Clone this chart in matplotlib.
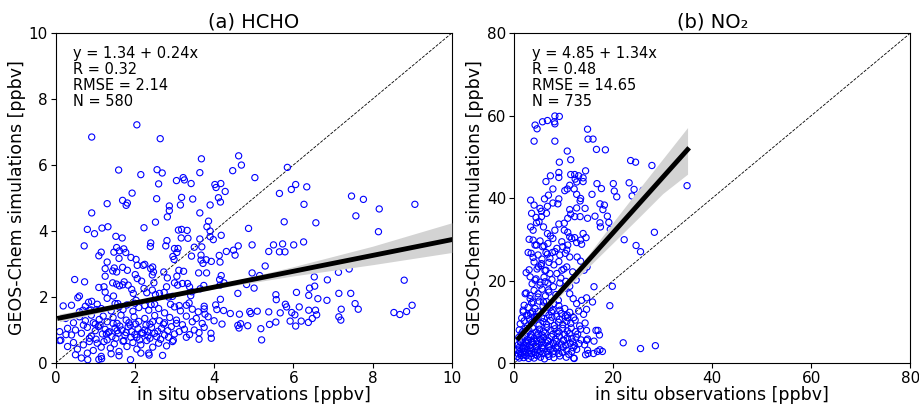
import matplotlib
matplotlib.use("Agg")
import matplotlib.pyplot as plt
import numpy as np

# ---------------- (a) HCHO : (in situ obs, GEOS-Chem) pairs ----------------
hcho_sparse = [
    (0.91,6.85),(2.05,7.22),(2.64,6.80),(3.68,6.19),(4.62,6.28),(4.69,6.00),(5.85,5.93),
    (1.59,5.85),(2.15,5.71),(2.56,5.86),(2.69,5.76),(3.05,5.53),(3.22,5.62),(3.25,5.55),(3.42,5.44),(3.64,5.77),(4.47,5.83),(5.03,5.62),
    (4.02,5.41),(4.17,5.44),(4.05,5.32),(4.28,5.20),(1.93,5.15),(2.60,5.43),(5.65,5.14),(5.95,5.26),(6.06,5.41),(6.34,5.34),
    (7.47,5.06),(7.77,4.96),(8.17,4.67),(9.07,4.81),(7.58,4.46),(6.57,4.25),(6.27,4.81),(5.77,4.28),
    (2.55,4.98),(3.18,5.02),(3.46,4.97),(4.11,5.01),(4.16,4.88),(3.90,4.79),(3.15,4.79),(2.87,4.76),(2.87,4.62),(2.82,4.43),(2.52,4.27),
    (1.69,4.93),(1.81,4.85),(1.78,4.78),(1.30,4.83),(0.91,4.55),(3.64,4.55),(3.86,4.30),(3.82,4.13),(2.23,4.10),(0.80,4.05),(1.17,4.09),(1.32,4.13),
    (3.10,4.03),(3.18,4.05),(3.32,4.02),(3.90,4.00),(4.87,4.08),(8.15,3.98),(0.98,3.92),(1.52,3.84),(1.68,3.79),(3.17,3.79),(3.34,3.78),
    (3.64,3.76),(3.90,3.83),(4.18,3.87),(3.98,3.74),(2.81,3.71),(2.40,3.64),
    (0.72,3.55),(1.54,3.50),(1.72,3.46),(2.39,3.53),(2.78,3.55),(3.00,3.47),(3.09,3.47),(3.50,3.51),(3.69,3.52),(4.61,3.55),(4.96,3.58),
    (5.50,3.58),(5.73,3.61),(6.01,3.58),(6.26,3.67),
    (9.12,3.34),(9.27,3.34),(8.33,3.19),(8.69,3.30),(1.15,3.36),(1.09,3.25),(1.47,3.36),(1.61,3.40),(1.77,3.35),(1.90,3.20),(2.03,3.14),
    (1.60,3.17),(1.30,3.06),(2.25,2.99),(2.06,2.96),
    (3.67,3.27),(3.43,3.24),(3.06,3.35),(2.96,3.23),(2.99,3.14),(3.67,3.12),(3.72,3.02),(3.80,3.13),(3.93,3.08),(4.13,3.26),(4.31,3.38),
    (4.49,3.42),(4.53,3.27),(4.15,3.06),(5.38,3.38),(5.65,3.37),(5.79,3.37),(5.29,2.94),
    (6.89,3.04),(7.41,2.85),(6.53,2.61),(6.86,2.52),(7.14,2.75),(8.80,2.51),
    (1.25,2.86),(1.48,2.88),(1.54,2.76),(1.69,2.90),(1.25,2.63),(1.44,2.79),(1.81,2.81),(2.01,2.68),(2.21,2.96),(2.45,2.91),(2.40,2.86),
    (2.47,2.76),(2.44,2.67),(2.73,2.76),(2.82,2.58),(3.06,2.63),(3.11,2.81),(3.23,2.78),(3.61,2.73),(3.81,2.73),(4.18,2.65),(4.14,2.53),
    (4.96,2.73),(5.15,2.65),
    (0.48,2.53),(0.73,2.46),(1.09,2.29),(1.22,2.31),(1.44,2.43),(1.54,2.39),(1.61,2.34),(1.69,2.37),(1.73,2.46),(1.83,2.36),(1.92,2.23),
    (2.06,2.56),(2.17,2.48),(2.23,2.26),(2.48,2.43),(2.44,2.21),(2.80,2.31),(3.00,2.43),(3.08,2.36),(3.20,2.41),(3.33,2.41),(3.38,2.31),
    (3.44,2.16),(4.15,2.36),(4.25,2.43),(4.82,2.38),(5.01,2.27),(6.54,2.33),(6.41,2.27),
    (0.60,2.03),(0.56,1.98),(0.83,1.84),(0.91,1.87),(1.25,2.15),(1.30,1.96),(1.46,2.03),(1.96,2.11),(2.03,1.90),(2.30,2.13),(2.52,2.07),
    (2.62,2.11),(2.74,2.14),(2.85,2.00),(2.95,2.02),(3.41,2.04),(3.65,2.25),(3.74,2.35),(4.60,2.11),(4.16,1.93),(6.08,2.14),(7.15,2.11),
    (7.45,2.11),(5.56,2.07),(5.57,1.92),(6.39,2.05),(6.62,1.95),(6.85,1.90),
    (0.19,1.73),(0.69,1.60),(0.89,1.61),(1.03,1.62),(1.57,1.80),(2.00,1.81),(2.41,1.77),(2.90,1.78),(3.12,1.74),(3.37,1.82),(3.75,1.64),
    (4.04,1.76),(4.07,1.62),(4.24,1.59),(3.77,1.48),(4.41,1.50),(4.64,1.48),(4.90,1.56),(4.93,1.50),(5.09,1.57),(5.38,1.55),(5.67,1.52),
    (5.80,1.78),(5.83,1.70),(5.96,1.53),(6.04,1.46),(6.15,1.70),(6.39,1.60),(6.56,1.60),(6.59,1.46),(6.20,1.27),(6.06,1.12),(5.92,1.27),
    (6.38,1.23),(6.48,1.35),
    (7.21,1.63),(7.56,1.80),(7.64,1.63),(7.15,1.40),(7.20,1.30),(8.54,1.53),(8.69,1.47),(8.86,1.56),(9.00,1.75),
    (5.56,1.24),(5.40,1.17),(5.18,1.04),(5.20,0.70),(4.60,1.14),(4.63,1.06),(4.85,1.13),(4.67,1.19),(3.93,0.75),(3.62,0.72),
    (2.70,0.23),(2.36,0.24),(1.89,0.10),(1.09,0.11),(1.16,0.13),(0.81,0.10),(0.65,0.15),(2.97,0.69),(0.13,0.69),(0.26,0.86),
]
hcho_cluster = [
    (0.40,1.75),(0.60,1.55),(0.75,1.72),(0.85,1.60),(1.05,1.78),(1.15,1.65),(1.40,1.58),(1.50,1.80),(1.60,1.70),(1.70,1.62),(1.80,1.76),
    (1.95,1.57),(2.10,1.68),(2.25,1.74),(2.35,1.60),(2.50,1.78),(2.60,1.65),(2.75,1.52),(3.00,1.70),(3.15,1.58),(3.30,1.75),(3.45,1.63),
    (3.60,1.55),(3.75,1.72),
    (0.25,1.35),(0.45,1.22),(0.60,1.40),(0.75,1.28),(0.90,1.45),(1.00,1.18),(1.10,1.32),(1.20,1.42),(1.30,1.25),(1.45,1.38),(1.55,1.20),
    (1.65,1.45),(1.78,1.30),(1.88,1.15),(1.98,1.40),(2.10,1.26),(2.25,1.35),(2.38,1.18),(2.50,1.44),(2.62,1.28),(2.75,1.22),(2.88,1.38),
    (3.05,1.30),(3.20,1.16),(3.30,1.42),(3.45,1.25),(3.55,1.35),(3.70,1.20),(3.85,1.40),(4.00,1.28),(4.20,1.18),
    (0.10,0.95),(0.30,1.05),(0.40,0.85),(0.50,1.00),(0.65,0.90),(0.80,1.08),(0.90,0.82),(1.00,0.98),(1.08,1.10),(1.18,0.88),(1.25,1.02),
    (1.33,0.92),(1.42,0.80),(1.50,1.06),(1.58,0.90),(1.67,1.00),(1.75,0.84),(1.83,1.10),(1.92,0.95),(2.00,0.86),(2.08,1.04),(2.17,0.92),
    (2.25,1.00),(2.33,0.82),(2.42,1.08),(2.50,0.90),(2.58,0.96),(2.67,1.05),(2.75,0.85),(2.83,0.98),(2.92,1.10),(3.00,0.88),(3.12,0.95),
    (3.25,1.02),(3.38,0.86),(3.50,1.00),(3.62,0.92),(3.75,1.08),(3.92,0.90),
    (0.10,0.68),(0.30,0.50),(0.45,0.62),(0.55,0.42),(0.70,0.55),(0.85,0.65),(0.95,0.38),(1.05,0.60),(1.15,0.48),(1.30,0.70),(1.38,0.45),
    (1.48,0.58),(1.60,0.35),(1.70,0.66),(1.80,0.50),(1.95,0.62),(2.05,0.42),(2.15,0.55),(2.30,0.68),(2.45,0.48),(2.60,0.60),(2.80,0.52),
    (2.95,0.65),
    (0.50,0.25),(0.80,0.30),(1.15,0.20),(1.40,0.28),(1.60,0.22),(2.15,0.30),(2.35,0.30),
    (1.02,0.72),(1.12,1.15),(1.22,0.65),(1.35,0.95),(1.45,1.20),(1.52,0.75),(1.62,1.12),(1.72,0.68),(1.85,1.22),(1.90,0.78),(2.02,1.18),
    (2.12,0.70),(2.20,0.90),(2.28,1.15),(2.38,0.75),(2.45,1.25),(2.55,0.80),(2.65,0.72),(2.72,1.18),(2.85,0.78),(0.95,1.22),(1.28,0.88),
    (1.55,0.98),(1.78,0.92),(2.05,0.78),(2.32,0.95),(0.70,1.15),(0.85,0.75),(3.05,1.20),(3.30,0.78),
]
hcho_fit = (1.34, 0.24)
hcho_band_x = [0.1, 2, 4, 6, 8, 10]
hcho_band_lo = [1.25, 1.77, 2.25, 2.64, 2.98, 3.35]
hcho_band_hi = [1.49, 1.87, 2.35, 2.92, 3.54, 4.25]
hcho_stats = "y = 1.34 + 0.24x\nR = 0.32\nRMSE = 2.14\nN = 580"

# ---------------- (b) NO2 ----------------
no2_sparse = [
    (8.2,59.9),(9.1,59.8),(8.1,58.5),(8.2,58.0),(6.7,58.8),(5.7,58.5),(4.2,57.7),(4.6,56.8),(4.0,53.8),(8.2,53.8),(14.8,56.7),(14.9,54.3),
    (15.9,54.3),(16.6,51.8),(18.4,51.7),(10.7,51.4),(11.4,49.3),(9.1,48.7),(23.5,49.1),(24.5,48.7),(27.8,47.9),(34.9,43.0),(28.7,43.0),
    (26.0,41.9),(27.3,42.2),(24.2,42.1),(23.2,43.7),(20.0,43.5),(20.2,41.7),(20.7,40.3),(23.8,40.5),(23.9,37.9),(16.7,43.5),(17.6,42.3),
    (15.7,40.9),(17.3,38.6),(18.2,38.3),(17.9,37.2),(18.8,35.6),(19.1,34.1),(17.3,34.0),(17.4,33.0),(19.4,32.4),(19.6,30.4),(16.3,35.6),
    (22.2,29.9),(24.6,28.5),(25.5,27.0),(28.3,31.7),(19.8,18.6),(19.3,13.9),(16.1,18.5),(15.8,14.8),(14.6,15.8),(14.6,13.0),(22.0,4.9),
    (25.5,3.5),(28.5,4.2),(16.5,7.9),(17.2,6.8),(16.1,5.3),(16.8,2.8),(17.3,3.2),(17.8,2.8),(16.0,2.3),(14.9,2.3),(14.8,3.1),(14.6,5.5),
    (12.0,1.2),
    (6.4,44.0),(7.3,45.4),(9.0,46.2),(9.0,45.0),(7.8,42.2),(6.1,39.8),(6.9,40.7),(6.7,38.0),(7.8,38.8),(8.8,38.6),(9.0,39.8),(10.2,41.8),
    (10.7,42.2),(11.2,43.1),(11.4,45.7),(12.2,45.7),(12.3,44.6),(13.0,45.4),(13.9,44.9),(14.4,46.6),(13.9,44.0),(12.6,43.9),(12.1,42.2),
    (12.6,40.9),(13.3,39.3),(13.4,39.9),(14.3,37.5),(12.6,37.6),(11.2,37.2),(11.4,36.1),(10.8,35.1),(12.2,35.5),(13.3,35.5),(14.8,35.1),
    (3.3,33.0),(3.8,32.2),(4.5,34.0),(5.0,34.3),(5.5,35.5),(5.9,33.0),(6.7,31.4),(7.3,30.8),(8.2,32.2),(9.0,33.7),(10.1,33.9),(10.1,32.2),
    (10.8,31.7),(11.2,30.6),(12.2,30.4),(13.9,31.4),(14.5,30.4),(13.4,29.8),(3.0,30.0),(3.8,29.8),(4.5,28.6),(5.7,28.2),(6.7,26.4),
    (7.7,26.8),(8.6,27.8),(9.8,28.2),(10.3,26.6),(11.2,25.7),(12.7,25.7),(13.4,24.7),(14.1,22.5),(14.7,23.3),(2.8,26.8),(3.4,26.6),
    (4.0,24.5),(4.9,23.3),(5.5,24.1),(6.4,22.5),(7.2,21.7),(8.6,21.7),(9.6,22.5),(10.6,23.3),(11.8,22.1),(12.5,20.1),(2.4,21.9),(3.2,20.9),
    (4.2,20.1),(5.2,18.9),(6.2,19.7),(6.9,17.7),(7.9,18.5),(9.2,19.4),(10.2,18.1),(11.2,18.6),(11.2,16.8),(11.9,15.6),(12.6,14.4),
    (13.6,15.2),(2.2,16.8),(3.2,15.6),(3.8,14.8),(4.8,16.0),(5.9,14.8),(6.7,13.6),(7.5,12.4),(8.9,15.2),(9.2,12.8),(10.2,13.2),(10.7,11.6),
    (1.8,12.8),(2.8,11.6),(3.7,12.4),(4.6,11.3),
    (3.3,39.5),(4.0,38.3),(5.2,37.5),(3.5,36.3),(4.4,35.3),(5.5,36.8),(6.5,36.3),
]
no2_cluster = [
    (1.8,12.4),(2.5,11.5),(3.3,12.0),(4.0,11.2),(4.8,12.5),(5.5,11.0),(6.3,12.2),(7.0,11.6),(7.8,12.8),(8.6,11.3),(9.5,12.0),(10.3,11.4),
    (11.2,12.3),(12.0,11.0),(13.0,12.6),(14.0,11.8),
    (1.2,9.5),(2.0,10.2),(2.7,9.0),(3.5,9.8),(4.2,10.4),(5.0,9.2),(5.8,10.0),(6.5,9.4),(7.3,10.3),(8.1,9.1),(8.9,9.9),(9.8,9.3),(10.6,10.1),
    (11.4,9.6),(12.3,10.4),(13.2,9.0),(14.3,9.7),
    (1.0,8.0),(1.7,7.6),(2.3,8.4),(3.0,7.8),(3.7,8.5),(4.4,7.5),(5.1,8.2),(5.9,7.7),(6.6,8.6),(7.4,7.9),(8.2,8.3),(9.0,7.6),(9.8,8.4),
    (10.7,7.8),(11.5,8.5),(12.4,7.6),(13.4,8.2),(14.6,7.9),(16.9,7.9),
    (0.9,6.2),(1.5,5.8),(2.1,6.5),(2.7,5.6),(3.3,6.3),(3.9,5.9),(4.6,6.6),(5.3,5.7),(6.0,6.2),(6.7,5.5),(7.5,6.4),(8.3,5.8),(9.1,6.5),
    (9.9,5.6),(10.7,6.1),(11.6,5.9),(12.5,6.3),(13.5,5.6),(14.8,5.8),
    (0.8,4.4),(1.3,4.9),(1.9,4.2),(2.5,4.8),(3.1,4.3),(3.7,5.0),(4.3,4.1),(5.0,4.7),(5.7,4.2),(6.4,4.9),(7.1,4.4),(7.9,4.8),(8.7,4.1),
    (9.5,4.6),(10.4,4.3),(11.3,4.8),(12.2,4.2),(13.1,4.7),(14.2,4.4),
    (0.7,3.2),(1.1,2.8),(1.6,3.4),(2.1,2.7),(2.6,3.3),(3.1,2.9),(3.6,3.5),(4.1,2.6),(4.7,3.1),(5.3,2.8),(5.9,3.4),(6.6,2.7),(7.3,3.2),
    (8.0,2.9),(8.8,3.4),(9.7,2.6),(10.6,3.1),(11.6,2.8),(12.6,3.3),
    (0.6,1.6),(1.0,1.2),(1.4,1.8),(1.9,1.3),(2.4,1.7),(2.9,1.1),(3.4,1.6),(4.0,1.2),(4.6,1.8),(5.3,1.4),(6.1,1.0),(7.0,1.6),(8.0,1.3),
    (9.2,1.7),(10.5,1.4),(12.1,1.1),
    (1.5,10.9),(3.0,10.7),(4.5,11.0),(6.0,10.8),(7.6,11.1),(9.1,10.6),(10.8,11.0),
    (1.4,7.0),(2.6,7.2),(3.4,6.9),(4.8,7.1),(5.6,6.8),(6.2,7.3),(7.8,7.0),(8.7,7.2),(10.2,6.9),(11.1,7.1),(12.8,7.0),
    (1.2,5.3),(2.2,5.1),(2.9,5.4),(3.5,5.2),(4.5,5.4),(5.5,5.1),(6.9,5.3),(8.5,5.2),(10.0,5.4),(11.8,5.1),
    (1.0,3.8),(1.8,3.7),(2.4,3.9),(3.3,3.7),(4.4,3.9),(5.6,3.7),(6.9,3.9),(8.4,3.7),(9.9,3.8),(11.9,3.7),
    (0.8,2.2),(1.3,2.3),(2.0,2.1),(2.8,2.2),(3.5,2.3),(4.3,2.1),(5.0,2.2),(5.8,2.3),(6.8,2.1),(7.8,2.2),(9.0,2.3),(11.0,2.1),(14.4,2.0),
    (2.0,14.0),(2.8,13.5),(3.5,14.6),(4.2,13.2),(5.0,15.0),(5.8,13.8),(6.5,14.9),(7.2,13.4),(8.0,14.4),(9.0,13.9),(2.4,17.0),(3.2,16.4),
    (4.0,17.6),(4.8,16.8),(5.6,17.9),(6.3,16.3),(7.0,17.2),(8.4,16.6),(3.6,19.2),(4.4,20.4),(5.2,19.6),(6.0,20.8),(6.8,19.4),(7.6,20.2),
    (9.4,20.6),(10.4,19.8),(3.0,22.6),(4.6,22.8),(5.4,23.6),(6.2,22.4),(7.0,24.4),(8.0,23.8),(9.0,24.6),(10.0,22.8),(3.8,25.6),(4.8,26.2),
    (5.6,25.2),(6.4,26.8),(7.2,25.4),(8.2,27.0),(9.2,26.2),(10.6,27.4),(4.2,28.6),(5.2,29.6),(6.0,28.4),(6.8,29.0),(7.8,30.2),(9.6,29.4),
    (10.8,28.6),(11.6,30.2),(12.6,29.2),(13.6,28.8),
]
no2_fit = (4.85, 1.34)
no2_fit_range = (0.9, 35.0)
no2_band_x = [0.9, 5, 10, 15, 20, 25, 30, 35]
no2_band_lo = [5.2, 10.9, 17.2, 23.3, 29.2, 35.1, 41.1, 45.8]
no2_band_hi = [6.9, 12.1, 18.8, 26.3, 34.2, 41.9, 49.5, 57.1]
no2_stats = "y = 4.85 + 1.34x\nR = 0.48\nRMSE = 14.65\nN = 735"


def panel(ax, pts, fit, xr, bx, blo, bhi, lim, title, stats):
    p = np.array(pts)
    ax.scatter(p[:, 0], p[:, 1], s=20, facecolors='none', edgecolors='blue', linewidths=0.8, zorder=2)
    ax.plot([0, lim], [0, lim], color='black', ls='--', lw=0.6, zorder=1)
    ax.fill_between(bx, blo, bhi, color='#d3d3d3', lw=0, zorder=3)
    xx = np.array(xr)
    ax.plot(xx, fit[0] + fit[1] * xx, color='black', lw=3.5, zorder=4)
    ax.set_xlim(0, lim)
    ax.set_ylim(0, lim)
    ax.set_title(title, fontsize=14, pad=4)
    ax.set_xlabel('in situ observations [ppbv]', fontsize=12.5, labelpad=0)
    ax.set_ylabel('GEOS-Chem simulations [ppbv]', fontsize=12.5, labelpad=2)
    ax.tick_params(labelsize=11, pad=2)
    ax.text(0.045, 0.96, stats, transform=ax.transAxes, va='top', ha='left', fontsize=10.5, linespacing=1.08)


fig = plt.figure(figsize=(9.2, 4.04), dpi=100)
ax1 = fig.add_axes([0.0605, 0.1015, 0.4305, 0.8165])
ax2 = fig.add_axes([0.559, 0.1015, 0.4305, 0.8165])

panel(ax1, hcho_sparse + hcho_cluster, hcho_fit, (0.1, 10.0), hcho_band_x, hcho_band_lo, hcho_band_hi,
      10, '(a) HCHO', hcho_stats)
ax1.set_xticks([0, 2, 4, 6, 8, 10])
ax1.set_yticks([0, 2, 4, 6, 8, 10])

panel(ax2, no2_sparse + no2_cluster, no2_fit, no2_fit_range, no2_band_x, no2_band_lo, no2_band_hi,
      80, '(b) NO₂', no2_stats)
ax2.set_xticks([0, 20, 40, 60, 80])
ax2.set_yticks([0, 20, 40, 60, 80])

fig.savefig('out.png', dpi=100)
